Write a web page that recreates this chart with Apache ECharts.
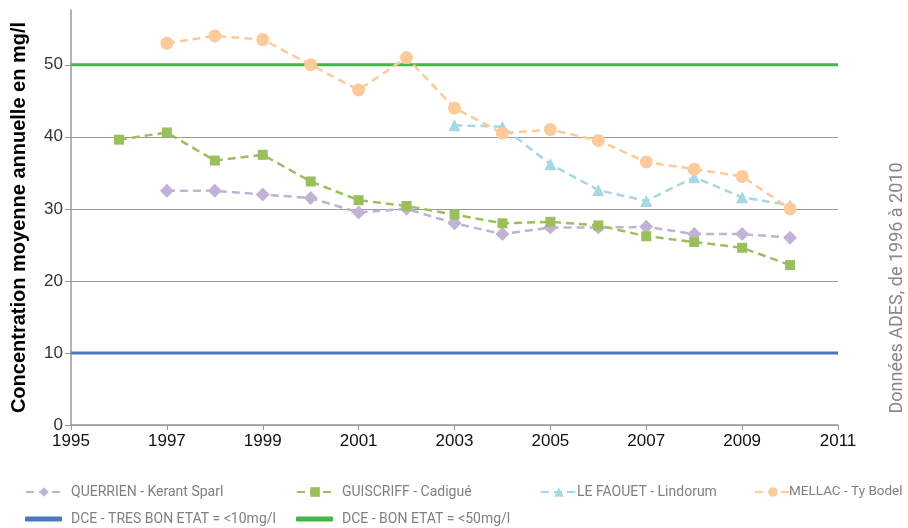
<!DOCTYPE html>
<html>
<head>
<meta charset="utf-8">
<script src="https://cdn.jsdelivr.net/npm/echarts@6/dist/echarts.min.js"></script>
<style>
  html, body { margin: 0; padding: 0; background: #fff; }
  #chart { width: 908px; height: 528px; }
</style>
</head>
<body>
<div id="chart"></div>
<script>
// années et valeurs (mg/l)
const years = [1996, 1997, 1998, 1999, 2000, 2001, 2002, 2003, 2004, 2005, 2006, 2007, 2008, 2009, 2010]
const querrien = [null, 32.5, 32.5, 32, 31.5, 29.5, 30, 28, 26.5, 27.4, 27.4, 27.5, 26.5, 26.5, 26]
const guiscriff = [39.6, 40.6, 36.7, 37.5, 33.8, 31.2, 30.4, 29.2, 28, 28.2, 27.7, 26.2, 25.4, 24.6, 22.2]
const faouet = [null, null, null, null, null, null, null, 41.6, 41.4, 36.2, 32.6, 31.1, 34.4, 31.6, 30.5]
const mellac = [null, 53, 54, 53.5, 50, 46.5, 51, 44, 40.5, 41, 39.5, 36.5, 35.5, 34.5, 30]
const seuilTresBon = 10
const seuilBon = 50
const xRange = [1995, 2011]

const names = [
  'QUERRIEN - Kerant Sparl',
  'GUISCRIFF - Cadigué',
  'LE FAOUET - Lindorum',
  'MELLAC - Ty Bodel',
  'DCE - TRES BON ETAT = <10mg/l',
  'DCE - BON ETAT = <50mg/l'
]

const toPoints = vals => years.map((y, i) => [y, vals[i]]).filter(p => p[1] !== null)

const chart = echarts.init(document.getElementById('chart'))

const mkLegend = (name, left, top, pad, extra, size) => Object.assign({
  data: [name], left, top, itemWidth: 36, itemHeight: 12, itemGap: 0, padding: 0,
  textStyle: { color: '#808080', fontSize: size || 14, fontFamily: 'Roboto, sans-serif', padding: [0, 0, 0, pad] }
}, extra || {})
const bar = { icon: 'roundRect', itemWidth: 37, itemHeight: 5 }

const dashed = (name, vals, color, symbol, size) => ({
  name, type: 'line', data: toPoints(vals),
  symbol, symbolSize: size,
  lineStyle: { color, width: 2.5, type: [8, 5] },
  itemStyle: { color },
  clip: false, z: 3
})

chart.setOption({
  animation: false,
  grid: { left: 71, right: 70, top: 10, bottom: 103, containLabel: false, outerBoundsMode: 'none' },
  legend: [
    mkLegend(names[0], 25, 485, 4),
    mkLegend(names[1], 296, 485, 4),
    mkLegend(names[2], 540, 485, -5),
    mkLegend(names[3], 754, 485, -7, null, 13.5),
    mkLegend(names[4], 25, 512, 4, bar),
    mkLegend(names[5], 296, 512, 4, bar)
  ],
  xAxis: {
    type: 'value', min: xRange[0], max: xRange[1], interval: 2,
    axisLine: { lineStyle: { color: '#999', width: 1.5 } },
    axisTick: { show: true, length: 5, lineStyle: { color: '#999' } },
    axisLabel: { color: '#111', fontSize: 17, margin: 8, formatter: v => String(v) },
    splitLine: { show: false }
  },
  yAxis: {
    type: 'value', min: 0, max: 57.6, interval: 10,
    name: 'Concentration moyenne annuelle en mg/l',
    nameLocation: 'middle', nameGap: 42,
    nameTextStyle: { color: '#000', fontSize: 20, fontWeight: 'bold' },
    axisLine: { show: true, lineStyle: { color: '#999', width: 1.5 } },
    axisTick: { show: true, length: 6, lineStyle: { color: '#999' } },
    axisLabel: { color: '#333', fontSize: 17, margin: 8, showMaxLabel: false },
    splitLine: { show: true, lineStyle: { color: ['#999', '#999', '#999', '#999', '#999', '#999', 'rgba(0,0,0,0)'], width: 1 } }
  },
  graphic: [{
    type: 'text', x: 897, y: 288, rotation: Math.PI / 2,
    style: {
      text: 'Données ADES, de 1996 à 2010', fill: '#888', fontSize: 18,
      align: 'center', verticalAlign: 'middle', fontFamily: 'Roboto, sans-serif'
    }
  }],
  series: [
    dashed(names[0], querrien, '#c0b3d5', 'diamond', 14),
    dashed(names[1], guiscriff, '#9bbf5c', 'rect', 10),
    dashed(names[2], faouet, '#a6d7e5', 'triangle', 12),
    dashed(names[3], mellac, '#fcca9b', 'circle', 13),
    {
      name: names[4], type: 'line', symbol: 'none', z: 2,
      data: xRange.map(x => [x, seuilTresBon]),
      lineStyle: { color: '#4a78c0', width: 3 }, itemStyle: { color: '#4a78c0' }
    },
    {
      name: names[5], type: 'line', symbol: 'none', z: 2,
      data: xRange.map(x => [x, seuilBon]),
      lineStyle: { color: '#46b549', width: 3 }, itemStyle: { color: '#46b549' }
    }
  ]
})
</script>
</body>
</html>
